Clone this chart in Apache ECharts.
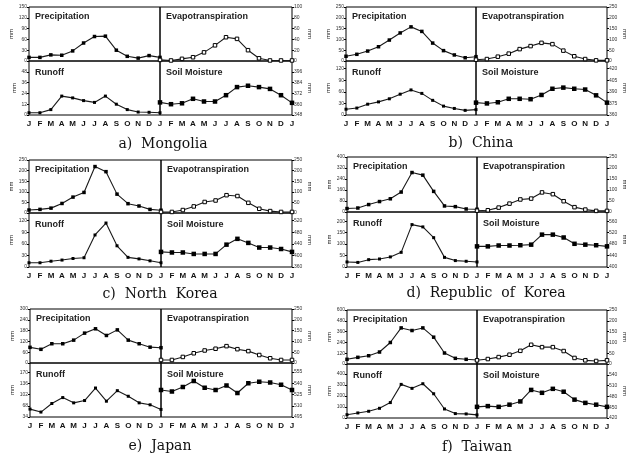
<!DOCTYPE html>
<html><head><meta charset="utf-8">
<script src="https://cdn.jsdelivr.net/npm/echarts@6/dist/echarts.min.js"></script>
<style>html,body{margin:0;padding:0;background:#fff}#c{width:634px;height:465px}</style>
</head><body><div id="c"></div>
<script>
// ---- data ----
const months = ['J','F','M','A','M','J','J','A','S','O','N','D','J'];
const countryTitles = ['a)  Mongolia','b)  China','c)  North  Korea','d)  Republic  of  Korea','e)  Japan','f)  Taiwan'];
const subTitles = ['Precipitation','Evapotranspiration','Runoff','Soil Moisture'];

const mongoliaP = [10,10,17,16,28,50,68,69,30,13,8,15,10];
const mongoliaE = [2,1,4,7,16,29,44,41,20,5,1,1,1];
const mongoliaR = [2.5,2.5,6,21,19,16,14,21,12,6,3.3,3,2.5];
const mongoliaS = [362,360,361,366,363,363,370,379,380.5,379,377,370,361.5];

const chinaP = [22,31,46,66,97,130,158,137,83,48,28,15,20];
const chinaE = [6,9,20,34,55,69,84,78,48,22,9,3,3];
const chinaR = [15,18,28,34,42,54,65,56,38,23,17,12,14];
const chinaS = [376,375,376.5,381,381,380.5,386,394,395.5,394,393,385.5,376];

const nkoreaP = [14,17,23,45,75,97,219,195,89,44,33,17,13];
const nkoreaE = [5,5,14,31,52,59,84,80,48,20,9,5,5];
const nkoreaR = [11,11,15,18,22,24,83,114,55,25,21,16,11];
const nkoreaS = [412,410,410,405,405,405,437,457,443,427,427,422,412];

const koreaP = [25,29,54,76,96,145,287,268,150,44,39,22,20];
const koreaE = [6,8,20,38,57,61,89,81,49,22,11,5,5];
const koreaR = [22,20,32,35,44,64,185,175,128,42,28,25,22];
const koreaS = [472,472,475,475,476,478,513,513,503,481,478,476,472];

const japanP = [87,76,107,107,127,166,190,153,184,127,107,88,85];
const japanE = [14,14,28,45,58,66,78,64,55,37,22,14,14];
const japanR = [58,49,75,93,77,84,122,82,114,97,77,71,57];
const japanS = [531,529,535,543,534,531,537,527,540,542,541,538,531];

const taiwanP = [52,74,92,133,239,401,372,401,298,122,63,52,44];
const taiwanE = [17,23,32,43,61,89,78,78,60,28,17,14,17];
const taiwanR = [30,46,61,88,140,305,269,311,220,82,40,37,28];
const taiwanS = [451,453,451,457,466,498,490,501,493,471,462,457,451];

// axis ranges [min, max, interval] for P, E, R, S
const mongoliaAxes = [[0,150,30],[0,100,20],[0,60,12],[348,408,12]];
const chinaAxes    = [[0,250,50],[0,250,50],[0,140,30],[360,430,15]];
const nkoreaAxes   = [[0,250,50],[0,250,50],[0,140,30],[360,546,40]];
const koreaAxes    = [[0,400,80],[0,250,50],[0,240,50],[400,592,40]];
const japanAxes    = [[0,300,60],[0,250,50],[34,198,34],[495,567,15]];
const taiwanAxes   = [[0,600,120],[0,250,50],[0,490,100],[420,570,30]];

const countryData = [
  [mongoliaP,mongoliaE,mongoliaR,mongoliaS,mongoliaAxes],
  [chinaP,chinaE,chinaR,chinaS,chinaAxes],
  [nkoreaP,nkoreaE,nkoreaR,nkoreaS,nkoreaAxes],
  [koreaP,koreaE,koreaR,koreaS,koreaAxes],
  [japanP,japanE,japanR,japanS,japanAxes],
  [taiwanP,taiwanE,taiwanR,taiwanS,taiwanAxes]
];

// ---- layout ----
const layout = [
  {x0:29, xd:160, x1:292, t:7, m:61, b:115, tx:163, ty:144},
  {x0:346, xd:476, x1:607, t:7, m:61, b:115, tx:481, ty:143},
  {x0:29, xd:161, x1:292, t:160, m:213, b:267, tx:160, ty:294},
  {x0:347, xd:477, x1:607, t:157, m:212, b:267, tx:486, ty:293},
  {x0:30, xd:161, x1:292, t:309, m:363, b:417, tx:160, ty:446},
  {x0:347, xd:477, x1:607, t:310, m:364, b:418, tx:477, ty:447}
];

const grids=[], xAxes=[], yAxes=[], series=[], graphics=[];
const ink = '#1a1a1a';
countryData.forEach((cd, ci) => {
  const L = layout[ci];
  const boxes = [
    {left:L.x0, top:L.t, w:L.xd-L.x0, h:L.m-L.t, side:'left', bottom:false},
    {left:L.xd, top:L.t, w:L.x1-L.xd, h:L.m-L.t, side:'right', bottom:false},
    {left:L.x0, top:L.m, w:L.xd-L.x0, h:L.b-L.m, side:'left', bottom:true},
    {left:L.xd, top:L.m, w:L.x1-L.xd, h:L.b-L.m, side:'right', bottom:true}
  ];
  boxes.forEach((B, k) => {
    const gi = grids.length;
    grids.push({left:B.left, top:B.top, width:B.w, height:B.h, show:true, borderColor:'#000', borderWidth:1, backgroundColor:'transparent', containLabel:false});
    const isLeftHalf = B.side === 'left';
    xAxes.push({
      type:'category', gridIndex:gi, data:months, boundaryGap:false,
      axisLine:{show:false}, axisTick:{show:false}, splitLine:{show:false},
      axisLabel:{
        show:B.bottom, interval:0, margin:5, fontSize:8, fontWeight:'bold', color:'#111',
        fontFamily:'Liberation Sans, Arial, sans-serif',
        formatter:(v, i) => (isLeftHalf && i === 12) ? '' : v
      }
    });
    const ax = cd[4][k];
    yAxes.push({
      type:'value', gridIndex:gi, position:B.side, min:ax[0], max:ax[1], interval:ax[2],
      axisLine:{show:false}, splitLine:{show:false},
      axisTick:{show:true, inside:false, length:2, lineStyle:{color:'#000', width:1}},
      axisLabel:{fontSize:5, margin:2, color:'#333', fontFamily:'Liberation Sans, Arial, sans-serif', showMaxLabel:!B.bottom},
      name:'mm', nameLocation:'middle', nameGap: isLeftHalf ? 12 : 13, nameRotate: isLeftHalf ? 90 : -90,
      nameTextStyle:{fontSize:6, color:'#222', fontFamily:'Liberation Sans, Arial, sans-serif'}
    });
    const hollow = (k === 1);
    series.push({
      type:'line', xAxisIndex:gi, yAxisIndex:gi, data:cd[k],
      symbol:'rect', symbolSize: k===3 ? 4.5 : (k===2 ? 3 : 3.5),
      showSymbol:true, animation:false,
      lineStyle:{color:ink, width:1.1},
      itemStyle: hollow ? {color:'#fff', borderColor:'#000', borderWidth:1} : {color:'#000'}
    });
    graphics.push({
      type:'text', left: B.left + 6, top: B.top + (B.bottom ? 7 : 5), silent:true,
      style:{text:subTitles[k], fontSize:9, fontWeight:'bold', fill:'#222', fontFamily:'Liberation Sans, Arial, sans-serif'}
    });
  });
  graphics.push({
    type:'text', x:L.tx, y:L.ty, silent:true,
    style:{text:countryTitles[ci], fontSize:14, fill:'#111', fontFamily:'DejaVu Serif, serif', textAlign:'center', textVerticalAlign:'middle'}
  });
});

const chart = echarts.init(document.getElementById('c'), null, {renderer:'canvas'});
chart.setOption({
  animation:false,
  grid:grids, xAxis:xAxes, yAxis:yAxes, series:series, graphic:graphics
});
</script></body></html>
